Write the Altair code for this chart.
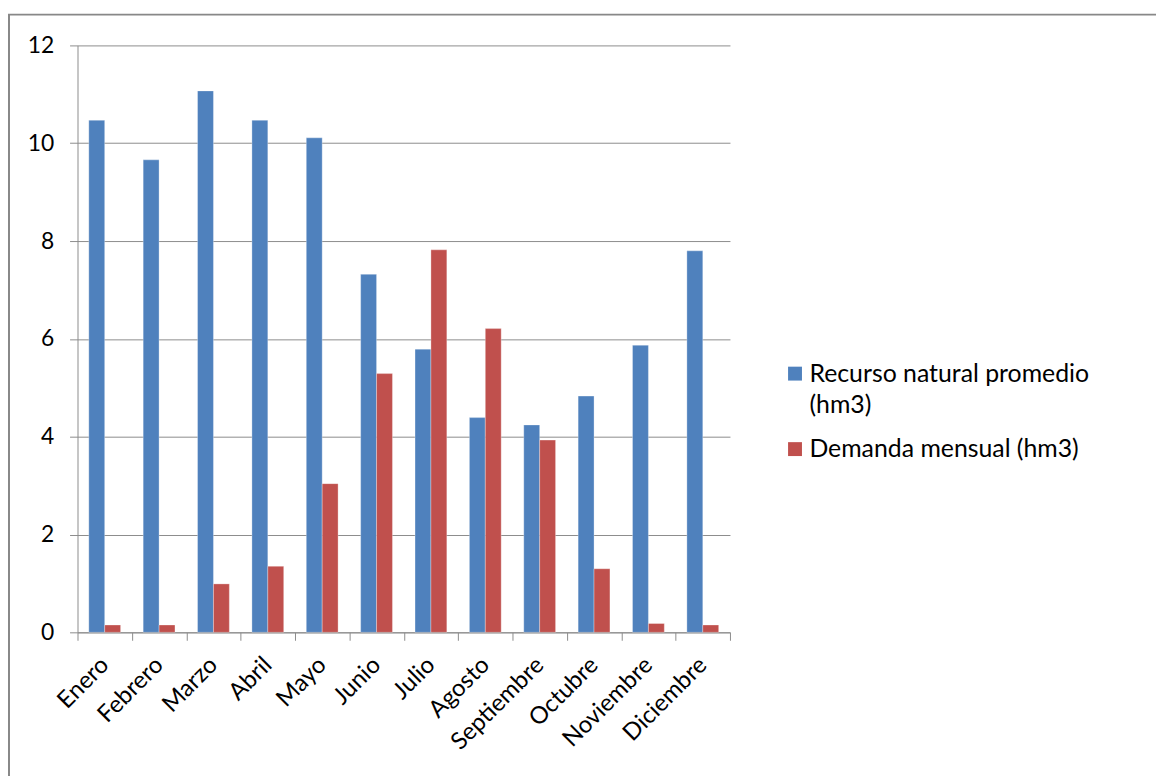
import altair as alt
import pandas as pd

months = ["Enero", "Febrero", "Marzo", "Abril", "Mayo", "Junio", "Julio",
          "Agosto", "Septiembre", "Octubre", "Noviembre", "Diciembre"]
recurso = [10.47, 9.66, 11.07, 10.47, 10.11, 7.32, 5.79, 4.39, 4.24, 4.83, 5.87, 7.80]
demanda = [0.15, 0.15, 0.99, 1.35, 3.04, 5.29, 7.82, 6.21, 3.93, 1.30, 0.18, 0.15]
series = ["Recurso natural promedio (hm3)", "Demanda mensual (hm3)"]
colors = ["#4F81BD", "#C0504D"]
y_ticks = [0, 2, 4, 6, 8, 10, 12]

rows = []
for m, r, d in zip(months, recurso, demanda):
    rows.append({"mes": m, "serie": series[0], "valor": r})
    rows.append({"mes": m, "serie": series[1], "valor": d})
df = pd.DataFrame(rows)

FONT = "Lato"
GRAY = "#8c8c8c"

bars = alt.Chart(df).mark_bar(stroke="#ffffff", strokeWidth=0.6, strokeOpacity=0.5).encode(
    x=alt.X("mes:N", sort=months, title=None,
            scale=alt.Scale(paddingInner=0, paddingOuter=0),
            axis=alt.Axis(tickBand="extent", labelAngle=-45, labelAlign="right",
                          labelBaseline="middle", labelPadding=21, tickSize=8,
                          tickColor=GRAY, domainColor=GRAY, labelFont=FONT,
                          labelFontSize=24, labelColor="#000000", grid=False)),
    xOffset=alt.XOffset("serie:N", sort=series,
                        scale=alt.Scale(paddingInner=0, paddingOuter=0.71)),
    y=alt.Y("valor:Q", title=None,
            scale=alt.Scale(domain=[0, 12], nice=False),
            axis=alt.Axis(values=y_ticks, tickSize=8, tickColor=GRAY,
                          domainColor=GRAY, gridColor=GRAY, labelFont=FONT,
                          labelFontSize=23, labelColor="#000000", labelPadding=16)),
    color=alt.Color("serie:N", sort=series,
                    scale=alt.Scale(domain=series, range=colors),
                    legend=alt.Legend(title=None, orient="none", legendX=710, legendY=318,
                                      symbolType="square", symbolSize=196,
                                      symbolStrokeWidth=0, labelFont=FONT,
                                      labelFontSize=25, labelColor="#000000",
                                      labelLimit=400, rowPadding=18, labelOffset=2,
                                      labelExpr="datum.label == 'Recurso natural promedio (hm3)' ? ['Recurso natural promedio', '(hm3)'] : datum.label")),
)

border = alt.Chart(pd.DataFrame({"a": [0]})).mark_rect(
    fill=None, stroke="#888888", strokeWidth=2).encode(
    x=alt.value(-69), x2=alt.value(1300), y=alt.value(-31), y2=alt.value(900))

chart = alt.layer(border, bars).properties(
    width=657, height=591,
    autosize=alt.AutoSizeParams(type="none"),
    padding={"left": 70, "top": 35, "right": 429, "bottom": 142},
).configure(view={"stroke": None}, style={"guide-label": {"lineHeight": 32}})

chart.save("out.html", embed_options={"renderer": "svg", "actions": False})
